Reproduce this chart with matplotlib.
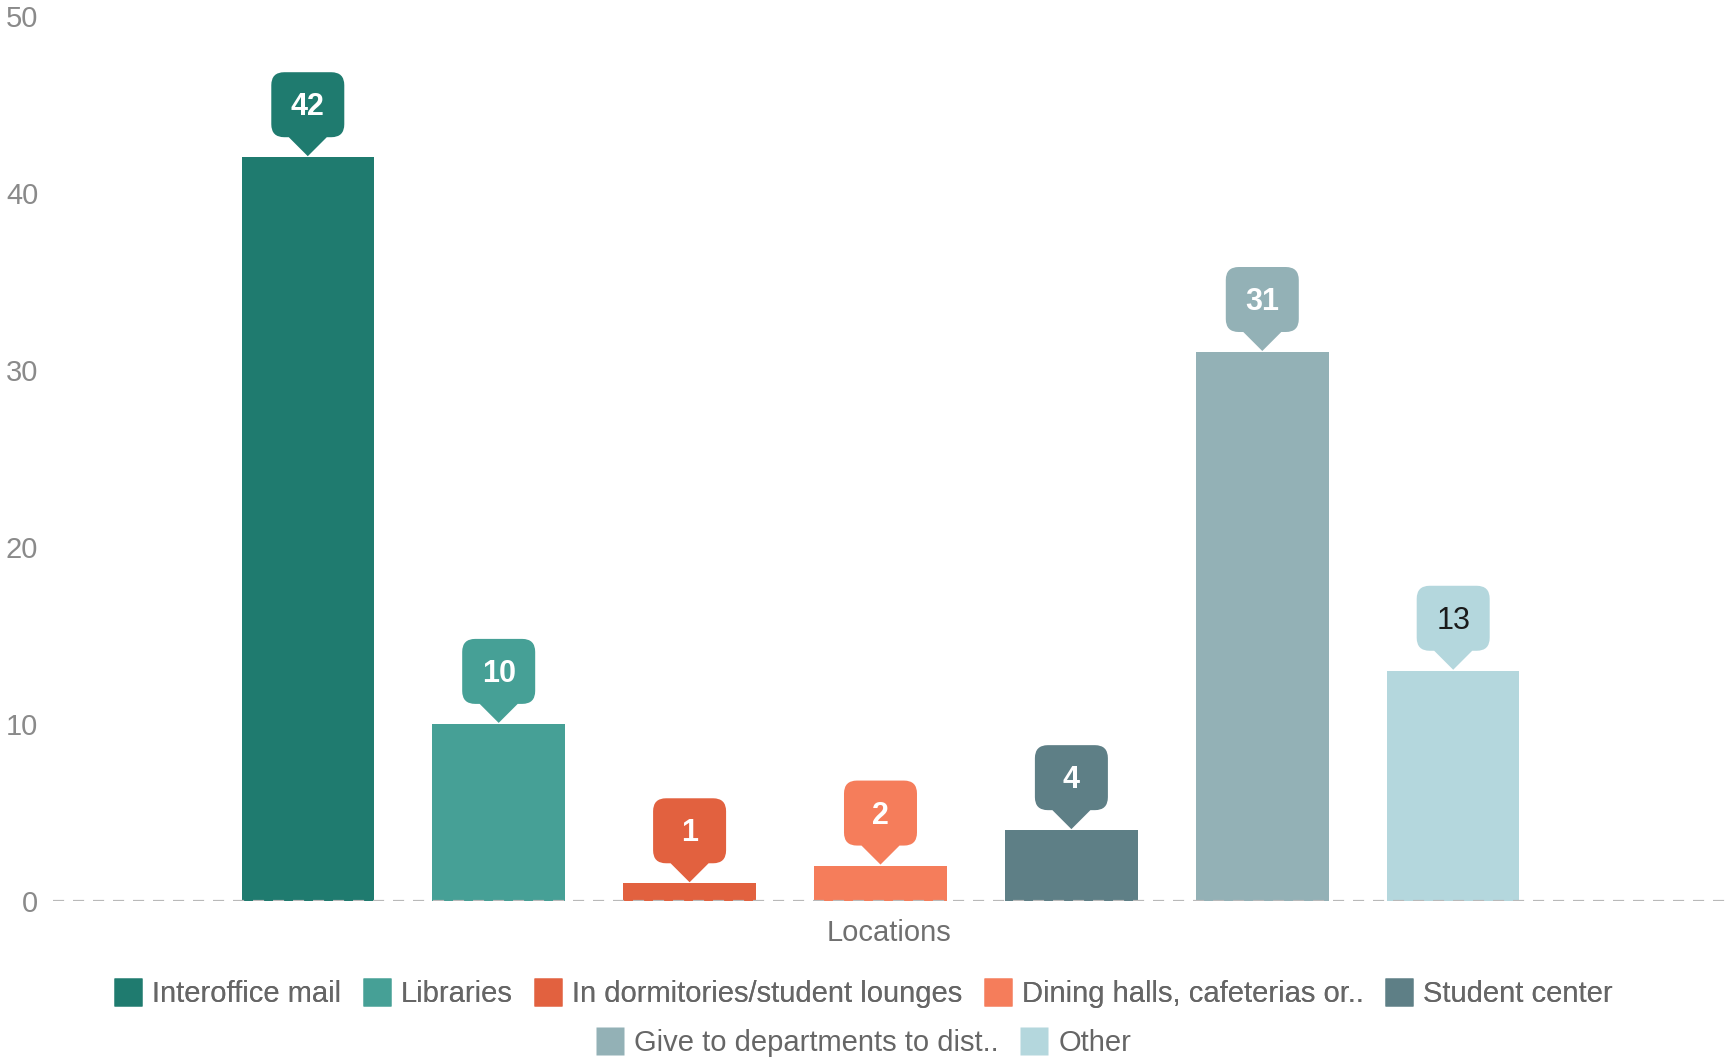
import matplotlib
matplotlib.use("Agg")
import matplotlib.pyplot as plt
from matplotlib.path import Path
from matplotlib.patches import PathPatch
from matplotlib.lines import Line2D
from matplotlib.transforms import Affine2D, ScaledTranslation

plt.rcParams['font.family'] = ['Liberation Sans', 'DejaVu Sans']

# Survey answers: where respondents pick up / drop off material
locations = ["Interoffice mail", "Libraries", "In dormitories/student lounges",
             "Dining halls, cafeterias or..", "Student center",
             "Give to departments to dist..", "Other"]
counts = [42, 10, 1, 2, 4, 31, 13]
colors = ["#1f7b6f", "#46a096", "#e2613f", "#f57d5b", "#5e7f86", "#93b1b6", "#b4d7dd"]
label_colors = ["white", "white", "white", "white", "white", "white", "#1a1a1a"]
label_weights = ["bold", "bold", "bold", "bold", "bold", "bold", "normal"]
yticks = [0, 10, 20, 30, 40, 50]

fig = plt.figure(figsize=(17.3, 10.57), dpi=100)
ax = fig.add_axes([0.0306, 0.1476, 0.9694, 0.8377])

xs = list(range(len(counts)))
ax.bar(xs, counts, width=0.694, color=colors, zorder=2)

# dashed baseline at zero
ax.axhline(0, color="#b9b9b9", lw=1.6, ls=(0, (5, 4)), zorder=3)


def bubble_path(hw=36.5, base=20, top=85, r=13, tail=19):
    verts = [(0, 1), (-tail, base), (-hw + r, base),
             (-hw, base), (-hw, base + r),
             (-hw, top - r),
             (-hw, top), (-hw + r, top),
             (hw - r, top),
             (hw, top), (hw, top - r),
             (hw, base + r),
             (hw, base), (hw - r, base),
             (tail, base), (0, 1), (0, 1)]
    codes = [Path.MOVETO, Path.LINETO, Path.LINETO,
             Path.CURVE3, Path.CURVE3,
             Path.LINETO,
             Path.CURVE3, Path.CURVE3,
             Path.LINETO,
             Path.CURVE3, Path.CURVE3,
             Path.LINETO,
             Path.CURVE3, Path.CURVE3,
             Path.LINETO, Path.LINETO, Path.CLOSEPOLY]
    return Path(verts, codes)


ax.set_xlim(-1.335, 7.45)
ax.set_ylim(0, 50)

px = fig.dpi / 100.0
for x, v, c, tc, w in zip(xs, counts, colors, label_colors, label_weights):
    trans = Affine2D().scale(px) + ScaledTranslation(x, v, ax.transData)
    patch = PathPatch(bubble_path(), facecolor=c, edgecolor="none",
                      transform=trans, clip_on=False, zorder=4)
    ax.add_artist(patch)
    ax.annotate(str(v), xy=(x, v), xytext=(0, 50), textcoords="offset pixels",
                ha="center", va="center", fontsize=22, color=tc,
                fontweight=w, zorder=5, annotation_clip=False)

ax.set_yticks(yticks)
ax.set_xticks([])
ax.tick_params(axis="y", length=0, pad=10.5, labelsize=21, labelcolor="#8a8a8a")
for s in ax.spines.values():
    s.set_visible(False)

fig.text(889 / 1730, 1 - 933 / 1057, "Locations", ha="center", va="center",
         fontsize=21, color="#707070")

handles = [Line2D([], [], marker="s", ls="none", markersize=20.5,
                  markerfacecolor=c, markeredgecolor="none") for c in colors]
leg_kw = dict(loc="center", frameon=False, fontsize=21, handlelength=1.0,
              handletextpad=0.32, columnspacing=0.72, borderpad=0,
              labelcolor="#666666")
leg1 = fig.legend(handles[:5], locations[:5], ncol=5,
                  bbox_to_anchor=(0.499, 1 - 994 / 1057), **leg_kw)
fig.legend(handles[5:], locations[5:], ncol=2,
           bbox_to_anchor=(0.499, 1 - 1043 / 1057), **leg_kw)
fig.add_artist(leg1)

fig.savefig("out.png", dpi=100)
